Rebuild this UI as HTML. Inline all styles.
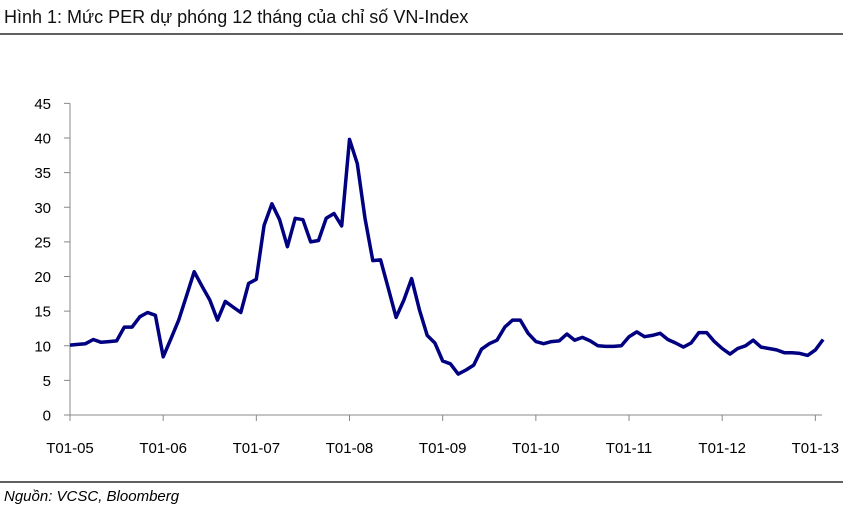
<!DOCTYPE html>
<html><head><meta charset="utf-8"><style>
body{margin:0;background:#fff;}
svg{display:block;font-family:"Liberation Sans",Arial,sans-serif;}
</style></head><body>
<svg width="865" height="510" viewBox="0 0 865 510">
<text x="4" y="23" font-size="18" fill="#111">Hình 1: Mức PER dự phóng 12 tháng của chỉ số VN-Index</text>
<line x1="0" y1="34" x2="843" y2="34" stroke="#000" stroke-width="1.3"/>
<g id="axes"></g>
<path id="line" fill="none" stroke="#000080" stroke-width="3.5" stroke-linejoin="round"/>
<line x1="0" y1="482" x2="843" y2="482" stroke="#000" stroke-width="1.3"/>
<text x="4" y="501" font-size="15" font-style="italic" fill="#000">Nguồn: VCSC, Bloomberg</text>
</svg>
<script>
const values=[10.1,10.2,10.3,10.9,10.5,10.6,10.7,12.7,12.7,14.2,14.8,14.4,8.4,11.0,13.7,17.2,20.7,18.6,16.6,13.7,16.4,15.6,14.8,19.0,19.6,27.4,30.5,28.2,24.3,28.4,28.2,25.0,25.2,28.4,29.1,27.3,39.8,36.3,28.4,22.3,22.4,18.3,14.1,16.6,19.7,15.2,11.5,10.4,7.8,7.4,5.9,6.5,7.2,9.5,10.3,10.8,12.7,13.7,13.7,11.8,10.6,10.3,10.6,10.7,11.7,10.8,11.2,10.7,10.0,9.9,9.9,10.0,11.3,12.0,11.3,11.5,11.8,10.9,10.4,9.8,10.4,11.9,11.9,10.6,9.6,8.8,9.6,10.0,10.8,9.8,9.6,9.4,9.0,9.0,8.9,8.6,9.4,10.9];
const xTickLabels=["T01-05","T01-06","T01-07","T01-08","T01-09","T01-10","T01-11","T01-12","T01-13"];
const yTicks=[0,5,10,15,20,25,30,35,40,45];
const NS="http://www.w3.org/2000/svg";
const x0=70,mw=93.17/12,y0=415,yu=6.925;
const xs=i=>x0+i*mw, ys=v=>y0-v*yu;
const ax=document.getElementById('axes');
function mk(t,a){const e=document.createElementNS(NS,t);for(const k in a)e.setAttribute(k,a[k]);ax.appendChild(e);return e;}
let e=mk('line',{x1:x0,y1:ys(45),x2:x0,y2:y0,stroke:'#888'});


e=mk('line',{x1:x0,y1:y0,x2:822,y2:y0,stroke:'#888'});


yTicks.forEach(v=>{
  let t=mk('line',{x1:x0-6,y1:ys(v),x2:x0,y2:ys(v),stroke:'#888'});
  
  
  let l=mk('text',{x:51,y:ys(v)+5.5,'font-size':15,'text-anchor':'end',fill:'#000'});
  l.textContent=v;
  
  
});
xTickLabels.forEach((s,i)=>{
  const x=xs(i*12);
  let t=mk('line',{x1:x,y1:y0,x2:x,y2:y0+6,stroke:'#888'});
  
  
  let l=mk('text',{x:x,y:453,'font-size':15,'text-anchor':'middle',fill:'#000'});
  l.textContent=s;
  
  
});
document.getElementById('line').setAttribute('d',values.map((v,i)=>(i?'L':'M')+xs(i).toFixed(1)+','+ys(v).toFixed(1)).join(''));
</script>
</body></html>
